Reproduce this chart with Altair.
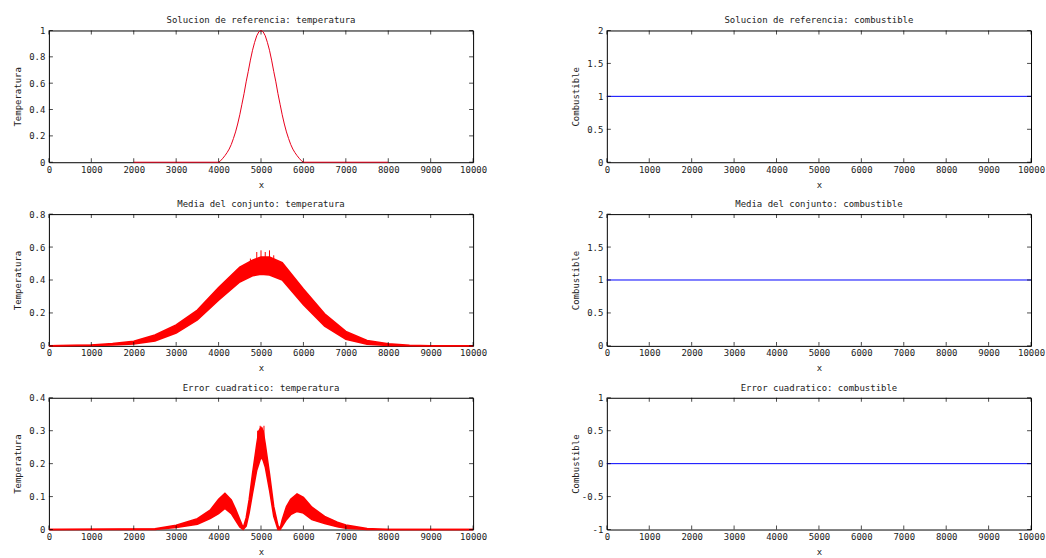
import altair as alt
import pandas as pd

FONT = "DejaVu Sans Mono"
FS = 9
W, H = 425, 132

# ---------------- data ----------------
x_ticks = [0, 1000, 2000, 3000, 4000, 5000, 6000, 7000, 8000, 9000, 10000]

# Reference solution: temperature (smooth bump, drawn from 2000 to 8000)
ref_x = [2000, 4000, 4050, 4100, 4150, 4200, 4250, 4300, 4350, 4400, 4450, 4500,
         4550, 4600, 4650, 4700, 4750, 4800, 4850, 4900, 4950, 5000,
         5050, 5100, 5150, 5200, 5250, 5300, 5350, 5400, 5450, 5500,
         5550, 5600, 5650, 5700, 5750, 5800, 5850, 5900, 5950, 6000, 8000]
ref_t = [0.0, 0.0, 0.012, 0.03, 0.05, 0.073, 0.10, 0.135, 0.18, 0.23, 0.29, 0.36,
         0.44, 0.52, 0.61, 0.69, 0.775, 0.85, 0.91, 0.96, 0.99, 1.0,
         0.99, 0.96, 0.91, 0.85, 0.775, 0.69, 0.61, 0.52, 0.44, 0.36,
         0.29, 0.23, 0.18, 0.135, 0.10, 0.073, 0.05, 0.03, 0.012, 0.0, 0.0]

# Ensemble mean: temperature (noisy band, lower / upper envelope)
mean_x = [0, 1000, 1500, 2000, 2500, 3000, 3500, 4000, 4500, 4800, 5000, 5200,
          5500, 6000, 6500, 7000, 7500, 8000, 8500, 9000, 10000]
mean_lo = [0.0, 0.002, 0.005, 0.012, 0.03, 0.078, 0.157, 0.277, 0.388, 0.425, 0.435, 0.43,
           0.40, 0.25, 0.12, 0.04, 0.01, 0.003, 0.0, 0.0, 0.0]
mean_hi = [0.0, 0.006, 0.015, 0.028, 0.066, 0.127, 0.217, 0.355, 0.478, 0.52, 0.54, 0.54,
           0.505, 0.345, 0.195, 0.088, 0.033, 0.013, 0.004, 0.0, 0.0]
mean_spike_x = [4750, 4900, 5000, 5100, 5200, 5300]
mean_spike_y = [0.53, 0.57, 0.58, 0.57, 0.58, 0.55]

# Squared error: temperature (noisy band, lower / upper envelope)
err_x = [0, 2500, 3000, 3500, 3800, 4000, 4150, 4300, 4400, 4500, 4580, 4650, 4720,
         4800, 4900, 4950, 5000, 5050, 5100, 5200, 5300, 5400, 5450, 5500, 5600,
         5700, 5850, 6000, 6200, 6500, 6800, 7000, 7500, 8000, 10000]
err_lo = [0.0, 0.0, 0.006, 0.016, 0.033, 0.048, 0.064, 0.048, 0.028, 0.008, 0.0, 0.01, 0.05,
          0.11, 0.18, 0.20, 0.22, 0.21, 0.19, 0.12, 0.04, 0.0, 0.0, 0.01, 0.03,
          0.045, 0.055, 0.05, 0.03, 0.018, 0.008, 0.004, 0.0, 0.0, 0.0]
err_hi = [0.0, 0.002, 0.013, 0.033, 0.059, 0.092, 0.11, 0.09, 0.062, 0.03, 0.005, 0.035, 0.09,
          0.17, 0.26, 0.30, 0.31, 0.30, 0.26, 0.17, 0.07, 0.012, 0.003, 0.03, 0.07,
          0.092, 0.108, 0.098, 0.068, 0.04, 0.022, 0.014, 0.003, 0.0, 0.0]
err_spike_x = [4920, 4980, 5030, 5070]
err_spike_y = [0.30, 0.315, 0.31, 0.315]

# Fuel panels (constant lines)
fuel_x = [0, 10000]
fuel_ref = [1, 1]
fuel_mean = [1, 1]
fuel_err = [0, 0]

y_ticks = {
    "t_ref": [0, 0.2, 0.4, 0.6, 0.8, 1],
    "t_mean": [0, 0.2, 0.4, 0.6, 0.8],
    "t_err": [0, 0.1, 0.2, 0.3, 0.4],
    "f_ref": [0, 0.5, 1, 1.5, 2],
    "f_mean": [0, 0.5, 1, 1.5, 2],
    "f_err": [-1, -0.5, 0, 0.5, 1],
}

titles = {
    "t_ref": "Solucion de referencia: temperatura",
    "t_mean": "Media del conjunto: temperatura",
    "t_err": "Error cuadratico: temperatura",
    "f_ref": "Solucion de referencia: combustible",
    "f_mean": "Media del conjunto: combustible",
    "f_err": "Error cuadratico: combustible",
}

TXT = "#222222"

# ---------------- helpers ----------------
xscale = alt.Scale(domain=[0, 10000], nice=False, zero=False)


def xaxis():
    return alt.Axis(values=x_ticks, ticks=False, domain=False, grid=False,
                    labelFont=FONT, labelFontSize=FS, labelColor=TXT,
                    labelPadding=3, labelFlush=False, labelExpr="datum.value + ''",
                    title="x", titleFont=FONT, titleFontSize=FS, titleFontWeight="normal",
                    titleColor=TXT, titlePadding=6)


def yaxis(vals, title):
    return alt.Axis(values=vals, ticks=False, domain=False, grid=False,
                    labelFont=FONT, labelFontSize=FS, labelColor=TXT,
                    labelPadding=4, labelFlush=False, labelExpr="datum.value + ''",
                    minExtent=22, maxExtent=22,
                    title=title, titleFont=FONT, titleFontSize=FS, titleFontWeight="normal",
                    titleColor=TXT, titlePadding=4)


def tick_layers(yvals, yscale, ya):
    xt = pd.DataFrame({"v": x_ticks})
    yt = pd.DataFrame({"v": yvals})
    common = dict(color="black", thickness=1, size=4)
    bottom = alt.Chart(xt).mark_tick(orient="vertical", yOffset=-2, **common).encode(
        x=alt.X("v:Q", scale=xscale, axis=xaxis()), y=alt.value(H))
    top = alt.Chart(xt).mark_tick(orient="vertical", yOffset=2, **common).encode(
        x=alt.X("v:Q", scale=xscale, axis=xaxis()), y=alt.value(0))
    left = alt.Chart(yt).mark_tick(orient="horizontal", xOffset=2, **common).encode(
        y=alt.Y("v:Q", scale=yscale, axis=ya), x=alt.value(0))
    right = alt.Chart(yt).mark_tick(orient="horizontal", xOffset=-2, **common).encode(
        y=alt.Y("v:Q", scale=yscale, axis=ya), x=alt.value(W))
    return [bottom, top, left, right]


def panel(key, layers_fn, ytitle):
    vals = y_ticks[key]
    yscale = alt.Scale(domain=[vals[0], vals[-1]], nice=False, zero=False)
    ya = yaxis(vals, ytitle)
    layers = layers_fn(yscale, ya)
    return alt.layer(*layers, *tick_layers(vals, yscale, ya)).properties(
        width=W, height=H,
        title=alt.TitleParams(titles[key], font=FONT, fontSize=FS, fontWeight="normal",
                              color=TXT, offset=1, anchor="middle"),
    )


def t_ref_layers(ys, ya):
    df = pd.DataFrame({"x": ref_x, "y": ref_t})
    return [alt.Chart(df).mark_line(color="#e8001c", strokeWidth=1).encode(
        x=alt.X("x:Q", scale=xscale, axis=xaxis()),
        y=alt.Y("y:Q", scale=ys, axis=ya))]


def band_layers(xs, lo, hi, spike_x, spike_y, spike_base):
    def fn(ys, ya):
        df = pd.DataFrame({"x": xs, "lo": lo, "hi": hi})
        sdf = pd.DataFrame({"x": spike_x, "y": spike_y})
        return [
            alt.Chart(df).mark_area(color="#ff0000", opacity=1).encode(
                x=alt.X("x:Q", scale=xscale, axis=xaxis()),
                y=alt.Y("lo:Q", scale=ys, axis=ya), y2="hi:Q"),
            alt.Chart(df).mark_line(color="#ff0000", strokeWidth=1.5).encode(
                x=alt.X("x:Q", scale=xscale, axis=xaxis()),
                y=alt.Y("hi:Q", scale=ys, axis=ya)),
            alt.Chart(df).mark_line(color="#ff0000", strokeWidth=1.5).encode(
                x=alt.X("x:Q", scale=xscale, axis=xaxis()),
                y=alt.Y("lo:Q", scale=ys, axis=ya)),
            alt.Chart(sdf).mark_rule(color="#ff0000", strokeWidth=1).encode(
                x=alt.X("x:Q", scale=xscale, axis=xaxis()),
                y=alt.Y("y:Q", scale=ys, axis=ya),
                y2=alt.datum(spike_base)),
        ]
    return fn


def fuel_layers(vals):
    def fn(ys, ya):
        df = pd.DataFrame({"x": fuel_x, "y": vals})
        return [alt.Chart(df).mark_line(color="#0000ff", strokeWidth=1).encode(
            x=alt.X("x:Q", scale=xscale, axis=xaxis()),
            y=alt.Y("y:Q", scale=ys, axis=ya))]
    return fn


p1 = panel("t_ref", t_ref_layers, "Temperatura")
p2 = panel("f_ref", fuel_layers(fuel_ref), "Combustible")
p3 = panel("t_mean", band_layers(mean_x, mean_lo, mean_hi, mean_spike_x, mean_spike_y, 0.48), "Temperatura")
p4 = panel("f_mean", fuel_layers(fuel_mean), "Combustible")
p5 = panel("t_err", band_layers(err_x, err_lo, err_hi, err_spike_x, err_spike_y, 0.25), "Temperatura")
p6 = panel("f_err", fuel_layers(fuel_err), "Combustible")

chart = alt.concat(p1, p2, p3, p4, p5, p6, columns=2,
                   spacing={"row": 52, "column": 134}, bounds="flush").properties(
    padding={"left": 13, "top": 15, "right": 0, "bottom": 0},
    background="white",
).configure_view(stroke="black", strokeWidth=1)

chart.save("out.html", embed_options={"renderer": "svg", "actions": False})
